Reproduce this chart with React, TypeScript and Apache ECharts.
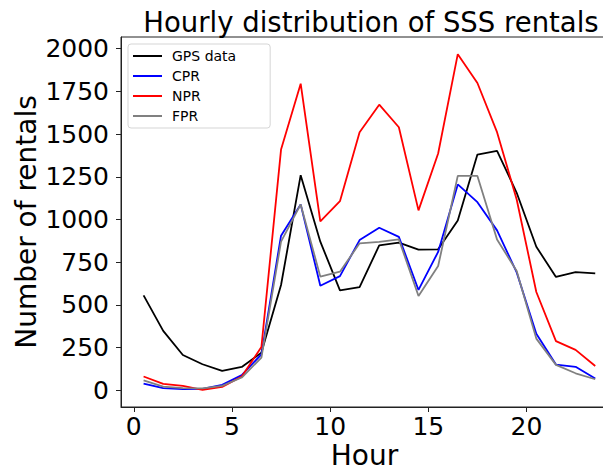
import React, { useEffect, useRef } from "react";
import * as echarts from "echarts";

const hours = [0.5, 1.5, 2.5, 3.5, 4.5, 5.5, 6.5, 7.5, 8.5, 9.5, 10.5, 11.5, 12.5, 13.5, 14.5, 15.5, 16.5, 17.5, 18.5, 19.5, 20.5, 21.5, 22.5, 23.5];
const gpsData = [555, 347, 206, 152, 113, 136, 220, 616, 1259, 870, 585, 604, 848, 864, 823, 825, 994, 1380, 1402, 1156, 840, 663, 692, 684];
const cpr = [39, 12, 6, 8, 31, 88, 210, 905, 1088, 612, 668, 879, 951, 898, 587, 810, 1205, 1101, 936, 690, 331, 150, 137, 68];
const npr = [80, 37, 25, 2, 19, 80, 253, 1409, 1795, 988, 1107, 1511, 1672, 1540, 1053, 1386, 1968, 1799, 1511, 1117, 575, 287, 236, 142];
const fpr = [58, 21, 12, 10, 25, 74, 191, 870, 1088, 665, 694, 860, 869, 883, 552, 727, 1255, 1255, 883, 698, 302, 148, 99, 64];
const xTicks = [0, 5, 10, 15, 20];
const yTicks = [0, 250, 500, 750, 1000, 1250, 1500, 1750, 2000];

const FONT = "DejaVu Sans";

export default function App() {
  const ref = useRef<HTMLDivElement>(null);
  useEffect(() => {
    if (!ref.current) return;
    const chart = echarts.init(ref.current, null, { renderer: "svg" });
    const mk = (name: string, vals: number[], color: string) => ({
      name,
      type: "line",
      data: hours.map((h, i) => [h, vals[i]]),
      showSymbol: false,
      symbol: "none",
      lineStyle: { color, width: 1.8 },
      itemStyle: { color },
    });
    chart.setOption({
      animation: false,
      textStyle: { fontFamily: FONT },
      title: {
        text: "Hourly distribution of SSS rentals",
        left: 366,
        textAlign: "center",
        top: 3,
        textStyle: { fontFamily: FONT, fontSize: 27.5, fontWeight: "normal", color: "#000" },
      },
      legend: {
        orient: "vertical",
        left: 128,
        top: 44,
        padding: [5, 34, 5, 5],
        itemGap: 6,
        itemWidth: 29,
        itemHeight: 2,
        icon: "rect",
        borderColor: "#d5d5d5",
        borderWidth: 1,
        borderRadius: 3,
        backgroundColor: "rgba(255,255,255,0.8)",
        textStyle: { fontFamily: FONT, fontSize: 14, color: "#000", padding: [0, 0, 0, 5] },
        data: ["GPS data", "CPR", "NPR", "FPR"],
      },
      grid: {
        left: 121,
        right: 3,
        top: 37,
        bottom: 66,
        outerBoundsMode: "none",
        containLabel: false,
        show: true,
        borderColor: "#222",
        borderWidth: 1,
        backgroundColor: "transparent",
      },
      xAxis: {
        type: "value",
        min: -0.65,
        max: 24.15,
        name: "Hour",
        nameLocation: "middle",
        nameGap: 34,
        nameMoveOverlap: false,
        nameTextStyle: { fontFamily: FONT, fontSize: 28, color: "#000" },
        axisLine: { show: true, onZero: false, lineStyle: { color: "#222" } },
        axisTick: { show: true, customValues: xTicks, length: 5, lineStyle: { color: "#222" } },
        axisLabel: { customValues: xTicks, fontFamily: FONT, fontSize: 25, color: "#000", margin: 7 },
        splitLine: { show: false },
      },
      yAxis: {
        type: "value",
        min: -98.5,
        max: 2068.5,
        name: "Number of rentals",
        nameLocation: "middle",
        nameGap: 81,
        nameMoveOverlap: false,
        nameTextStyle: { fontFamily: FONT, fontSize: 28, color: "#000" },
        axisLine: { show: true, onZero: false, lineStyle: { color: "#222" } },
        axisTick: { show: true, customValues: yTicks, length: 5, lineStyle: { color: "#222" } },
        axisLabel: {
          customValues: yTicks,
          fontFamily: FONT,
          fontSize: 25,
          color: "#000",
          margin: 12,
          formatter: (v: number) => String(v),
        },
        splitLine: { show: false },
      },
      series: [
        mk("GPS data", gpsData, "#000000"),
        mk("CPR", cpr, "#0000ff"),
        mk("NPR", npr, "#ff0000"),
        mk("FPR", fpr, "#808080"),
      ],
    });
    return () => chart.dispose();
  }, []);
  return <div ref={ref} style={{ width: 611, height: 473, margin: -8 }} />;
}
